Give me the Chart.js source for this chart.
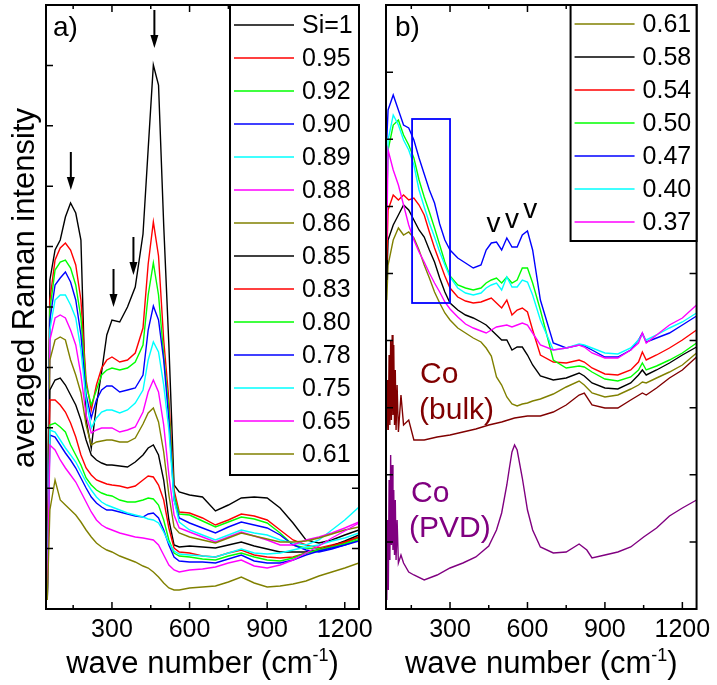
<!DOCTYPE html>
<html>
<head>
<meta charset="utf-8">
<script src="https://cdn.jsdelivr.net/npm/chart.js@4.4.1/dist/chart.umd.min.js"></script>
<style>
  body { margin: 0; background: #fff; }
  #wrap { position: relative; width: 717px; height: 685px; overflow: hidden; }
  #left { position: absolute; left: 0; top: 0; }
  #right { position: absolute; left: 370px; top: 0; }
</style>
</head>
<body>
<div id="wrap">
  <canvas id="left" width="380" height="685"></canvas>
  <canvas id="right" width="347" height="685"></canvas>
</div>
<script>
const FONT = "'Liberation Sans', Arial, sans-serif";

// ---- panel a) : wave numbers and averaged intensities (arb. units) ----
const waveA = [50, 60, 80, 100, 120, 140, 160, 180, 200, 220, 240, 260, 280, 300, 330, 360, 390, 420, 440, 460, 480, 500, 520, 540, 560, 600, 650, 700, 750, 800, 850, 900, 950, 1000, 1050, 1100, 1150, 1200, 1255];
const a100 = [49, 329, 359, 369, 392, 406, 396, 369, 189, 161, 204, 237, 274, 289, 287, 302, 322, 375, 460, 544, 524, 384, 264, 124, 117, 114, 112, 98, 104, 111, 112, 111, 101, 86, 69, 66, 69, 74, 79];
const a095 = [39, 309, 349, 361, 366, 359, 344, 309, 229, 199, 224, 241, 249, 252, 247, 249, 256, 281, 345, 387, 353, 269, 209, 119, 97, 96, 91, 84, 89, 95, 93, 89, 79, 69, 64, 61, 64, 67, 72];
const a092 = [34, 299, 339, 347, 349, 341, 324, 291, 224, 204, 219, 234, 239, 241, 239, 241, 247, 264, 314, 346, 314, 254, 199, 114, 95, 94, 88, 82, 87, 92, 90, 86, 76, 64, 61, 60, 63, 66, 71];
const a090 = [29, 289, 324, 331, 337, 327, 309, 274, 214, 191, 209, 219, 223, 223, 217, 219, 221, 234, 279, 303, 289, 249, 189, 109, 91, 86, 81, 76, 82, 87, 84, 81, 74, 64, 59, 57, 60, 64, 69];
const a089 = [24, 279, 309, 314, 314, 304, 291, 259, 209, 181, 191, 197, 199, 199, 196, 199, 206, 219, 249, 267, 257, 224, 179, 109, 87, 79, 74, 69, 74, 79, 76, 74, 69, 66, 64, 69, 79, 89, 102];
const a088 = [19, 269, 291, 294, 291, 279, 264, 234, 194, 176, 179, 181, 181, 181, 177, 179, 182, 197, 217, 229, 217, 184, 134, 94, 81, 77, 72, 67, 72, 77, 73, 69, 64, 64, 69, 72, 76, 81, 87];
const a086 = [17, 249, 269, 272, 269, 249, 234, 216, 184, 164, 167, 168, 169, 169, 167, 167, 171, 185, 196, 201, 187, 157, 114, 82, 76, 72, 69, 66, 71, 76, 73, 70, 67, 67, 68, 71, 75, 79, 82];
const a085 = [14, 219, 229, 231, 224, 214, 204, 189, 169, 154, 149, 146, 144, 144, 143, 142, 147, 154, 161, 164, 154, 129, 89, 64, 62, 63, 62, 61, 64, 67, 63, 60, 57, 57, 57, 59, 63, 68, 74];
const a083 = [12, 209, 209, 204, 197, 186, 172, 154, 141, 134, 129, 127, 125, 124, 123, 121, 123, 129, 133, 132, 124, 109, 81, 61, 57, 56, 53, 52, 56, 59, 54, 52, 51, 52, 56, 59, 63, 67, 72];
const a080 = [11, 184, 186, 182, 177, 164, 154, 144, 131, 124, 119, 116, 114, 113, 109, 107, 107, 109, 111, 110, 104, 89, 69, 56, 53, 52, 50, 49, 53, 56, 52, 49, 48, 51, 56, 59, 62, 65, 69];
const a078 = [11, 174, 172, 164, 156, 149, 141, 131, 121, 112, 106, 102, 99, 99, 97, 95, 93, 92, 95, 96, 91, 79, 64, 52, 48, 47, 47, 46, 50, 54, 48, 46, 46, 49, 54, 58, 61, 64, 68];
const a075 = [11, 179, 177, 169, 161, 154, 147, 137, 127, 119, 112, 107, 104, 102, 99, 96, 94, 92, 90, 89, 86, 77, 66, 58, 55, 54, 53, 52, 56, 60, 56, 55, 56, 59, 62, 64, 68, 71, 76];
const a065 = [10, 164, 159, 149, 141, 134, 127, 117, 107, 97, 89, 84, 81, 79, 76, 74, 72, 71, 70, 69, 64, 54, 44, 39, 37, 39, 40, 42, 46, 49, 43, 41, 44, 49, 56, 63, 71, 78, 86];
const a061 = [9, 99, 129, 109, 104, 99, 94, 87, 79, 72, 66, 62, 59, 57, 53, 50, 47, 43, 41, 37, 32, 26, 21, 19, 19, 21, 22, 23, 27, 32, 26, 22, 23, 25, 28, 33, 37, 41, 46];

const labelsA = ['Si=1', '0.95', '0.92', '0.90', '0.89', '0.88', '0.86', '0.85', '0.83', '0.80', '0.78', '0.75', '0.65', '0.61'];
const colorsA = ['#000000', '#ff0000', '#00ff00', '#0000ff', '#00ffff', '#ff00ff', '#808000', '#000000', '#ff0000', '#00ff00', '#0000ff', '#00ffff', '#ff00ff', '#808000'];
const seriesA = [a100, a095, a092, a090, a089, a088, a086, a085, a083, a080, a078, a075, a065, a061];

// arrows in panel a (tip position)
const arrowWave = [141, 306, 383, 464];
const arrowLevel = [419, 302, 334, 561];

// ---- panel b) ----
const waveB = [55, 60, 80, 100, 120, 140, 160, 180, 200, 220, 240, 260, 280, 300, 330, 360, 390, 420, 440, 460, 480, 500, 520, 540, 560, 580, 600, 620, 650, 700, 750, 800, 820, 850, 900, 950, 1000, 1030, 1045, 1060, 1100, 1150, 1200, 1255];
const b061 = [309, 344, 369, 381, 374, 377, 371, 359, 344, 331, 317, 306, 296, 289, 281, 276, 271, 267, 261, 253, 232, 224, 212, 205, 203, 205, 206, 208, 210, 215, 222, 228, 224, 216, 212, 214, 220, 224, 227, 226, 231, 237, 244, 256];
const b058 = [329, 369, 384, 394, 404, 399, 389, 379, 372, 359, 347, 331, 317, 306, 299, 294, 291, 287, 284, 279, 274, 269, 269, 259, 262, 262, 254, 244, 233, 229, 231, 236, 233, 226, 221, 220, 226, 234, 239, 234, 239, 246, 254, 262];
const b054 = [349, 399, 414, 409, 414, 409, 411, 404, 394, 377, 361, 347, 333, 321, 312, 308, 306, 307, 309, 311, 306, 301, 309, 294, 299, 301, 297, 279, 254, 247, 246, 249, 247, 241, 235, 234, 239, 247, 257, 249, 254, 261, 269, 279];
const b050 = [409, 459, 484, 489, 474, 464, 451, 429, 412, 397, 381, 364, 347, 333, 324, 321, 319, 321, 326, 329, 331, 326, 332, 326, 329, 341, 341, 326, 299, 249, 241, 243, 242, 237, 230, 228, 232, 239, 246, 239, 243, 249, 256, 266];
const b047 = [469, 499, 514, 499, 484, 481, 469, 451, 435, 419, 406, 385, 369, 359, 351, 346, 341, 344, 359, 366, 367, 359, 371, 362, 362, 374, 378, 359, 309, 266, 261, 264, 263, 259, 252, 252, 259, 269, 276, 267, 271, 276, 284, 293];
const b040 = [399, 469, 494, 484, 469, 459, 444, 419, 402, 386, 372, 357, 344, 332, 321, 316, 314, 316, 321, 324, 326, 319, 332, 322, 322, 329, 327, 314, 289, 259, 261, 265, 264, 261, 256, 255, 261, 269, 274, 269, 274, 281, 287, 296];
const b037 = [369, 459, 439, 424, 404, 384, 369, 357, 347, 336, 326, 317, 307, 300, 292, 285, 281, 278, 276, 279, 282, 283, 284, 282, 284, 286, 284, 276, 264, 259, 261, 264, 262, 256, 251, 251, 259, 266, 276, 266, 274, 284, 291, 304];

const labelsB = ['0.61', '0.58', '0.54', '0.50', '0.47', '0.40', '0.37'];
const colorsB = ['#808000', '#000000', '#ff0000', '#00ff00', '#0000ff', '#00ffff', '#ff00ff'];
const seriesB = [b061, b058, b054, b050, b047, b040, b037];

// reference spectra of cobalt
const waveBulk = [55, 58, 61, 64, 67, 70, 73, 76, 79, 82, 85, 88, 91, 95, 100, 110, 120, 140, 160, 200, 250, 300, 350, 400, 450, 500, 550, 600, 650, 700, 750, 800, 820, 850, 900, 950, 1000, 1045, 1060, 1100, 1150, 1200, 1255];
const coBulk = [179, 229, 179, 254, 184, 269, 189, 274, 194, 264, 184, 239, 179, 224, 177, 214, 184, 189, 169, 169, 172, 174, 177, 180, 184, 187, 191, 193, 193, 197, 204, 214, 216, 204, 201, 201, 209, 216, 214, 221, 231, 239, 252];
const wavePvd = [55, 58, 61, 64, 67, 70, 73, 76, 79, 82, 85, 88, 91, 95, 100, 110, 120, 140, 160, 200, 250, 300, 350, 400, 450, 480, 500, 520, 530, 540, 550, 560, 580, 600, 620, 650, 700, 750, 800, 830, 850, 900, 950, 1000, 1050, 1100, 1150, 1200, 1255];
const coPvd = [9, 89, 19, 129, 49, 154, 64, 144, 59, 119, 54, 109, 49, 89, 46, 54, 46, 37, 34, 29, 34, 41, 46, 52, 63, 79, 96, 124, 141, 157, 164, 159, 131, 99, 79, 62, 56, 57, 65, 59, 51, 54, 57, 62, 72, 81, 93, 101, 109];

// marks in panel b
const vWave = [468, 540, 611];
const vLevel = [377, 381, 391];
const boxWave = [153, 300];
const boxLevel = [306, 490];
const coText = ['Co', '(bulk)', 'Co', '(PVD)'];
const coTextWave = [184, 180, 149, 141];
const coTextLevel = [226, 190, 107, 72];
const coTextColor = ['#800000', '#800000', '#800080', '#800080'];

const xTicks = [300, 600, 900, 1200];

function lineSet(label, color, waves, values, order) {
  return {
    label: label,
    data: waves.map((w, k) => ({ x: w, y: values[k] })),
    borderColor: color,
    borderWidth: 1.4,
    pointRadius: 0,
    fill: false,
    tension: 0,
    order: order
  };
}

// frame with inward ticks on all four sides
const frameTicks = {
  id: 'frameTicks',
  afterDatasetsDraw(chart, args, opts) {
    const { ctx, chartArea: a, scales: { x, y } } = chart;
    ctx.save();
    ctx.strokeStyle = '#000';
    ctx.lineWidth = 1.5;
    ctx.beginPath();
    for (let w = 150; w < x.max; w += 150) {
      if (w <= x.min) continue;
      const px = x.getPixelForValue(w);
      const len = w % 300 === 0 ? 7 : 4;
      ctx.moveTo(px, a.bottom); ctx.lineTo(px, a.bottom - len);
      ctx.moveTo(px, a.top); ctx.lineTo(px, a.top + len);
    }
    for (let v = opts.yStep; v < y.max - 1; v += opts.yStep) {
      const py = y.getPixelForValue(v);
      ctx.moveTo(a.left, py); ctx.lineTo(a.left + 7, py);
      ctx.moveTo(a.right, py); ctx.lineTo(a.right - 7, py);
    }
    ctx.stroke();
    ctx.lineWidth = 2;
    ctx.strokeRect(a.left, a.top, a.right - a.left, a.bottom - a.top);

    // x title with superscript
    const cx = (a.left + a.right) / 2, base = a.bottom + 64;
    ctx.fillStyle = '#000';
    ctx.textBaseline = 'alphabetic';
    ctx.textAlign = 'left';
    ctx.font = '31px ' + FONT;
    const main = 'wave number (cm';
    const w1 = ctx.measureText(main).width, w3 = ctx.measureText(')').width;
    ctx.font = '18px ' + FONT;
    const w2 = ctx.measureText('-1').width;
    let sx = cx - (w1 + w2 + w3) / 2;
    ctx.font = '31px ' + FONT;
    ctx.fillText(main, sx, base);
    ctx.font = '18px ' + FONT;
    ctx.fillText('-1', sx + w1, base - 12);
    ctx.font = '31px ' + FONT;
    ctx.fillText(')', sx + w1 + w2, base);

    // panel letter
    ctx.font = '28px ' + FONT;
    ctx.fillText(opts.letter, a.left + opts.letterDx, a.top + 31);
    ctx.restore();
  }
};

// boxed legend in the top right corner
const boxLegend = {
  id: 'boxLegend',
  afterDraw(chart, args, opts) {
    const { ctx, chartArea: a } = chart;
    const left = a.right - opts.width;
    ctx.save();
    ctx.fillStyle = '#fff';
    ctx.fillRect(left, a.top, opts.width, opts.height);
    ctx.strokeStyle = '#000';
    ctx.lineWidth = 2;
    ctx.strokeRect(left, a.top, opts.width, opts.height);
    ctx.font = '25px ' + FONT;
    ctx.textBaseline = 'middle';
    ctx.textAlign = 'left';
    opts.labels.forEach((lab, i) => {
      const yy = a.top + opts.first + 33 * i;
      ctx.strokeStyle = opts.colors[i];
      ctx.lineWidth = 1.3;
      ctx.beginPath();
      ctx.moveTo(left + 4, yy); ctx.lineTo(left + 64, yy);
      ctx.stroke();
      ctx.fillStyle = '#000';
      ctx.fillText(lab, left + 72, yy + 1);
    });
    ctx.restore();
  }
};

const arrowsA = {
  id: 'arrowsA',
  afterDraw(chart) {
    const { ctx, chartArea: a, scales: { x, y } } = chart;
    ctx.save();
    ctx.fillStyle = '#000';
    ctx.strokeStyle = '#000';
    arrowWave.forEach((w, i) => {
      const px = x.getPixelForValue(w), py = y.getPixelForValue(arrowLevel[i]);
      ctx.lineWidth = 2;
      ctx.beginPath();
      ctx.moveTo(px, py - 38); ctx.lineTo(px, py - 10);
      ctx.stroke();
      ctx.beginPath();
      ctx.moveTo(px, py); ctx.lineTo(px - 4, py - 13); ctx.lineTo(px + 4, py - 13);
      ctx.closePath();
      ctx.fill();
    });
    // y title
    ctx.translate(a.left - 21, a.top + 283);
    ctx.rotate(-Math.PI / 2);
    ctx.font = '31px ' + FONT;
    ctx.textAlign = 'center';
    ctx.textBaseline = 'middle';
    ctx.fillText('averaged Raman intensity', 0, 0);
    ctx.restore();
  }
};

const marksB = {
  id: 'marksB',
  afterDraw(chart) {
    const { ctx, scales: { x, y } } = chart;
    ctx.save();
    ctx.strokeStyle = '#0000ff';
    ctx.lineWidth = 1.8;
    const x0 = x.getPixelForValue(boxWave[0]), x1 = x.getPixelForValue(boxWave[1]);
    const y0 = y.getPixelForValue(boxLevel[1]), y1 = y.getPixelForValue(boxLevel[0]);
    ctx.strokeRect(x0, y0, x1 - x0, y1 - y0);
    ctx.fillStyle = '#000';
    ctx.font = '28px ' + FONT;
    ctx.textAlign = 'center';
    ctx.textBaseline = 'alphabetic';
    vWave.forEach((w, i) => ctx.fillText('v', x.getPixelForValue(w), y.getPixelForValue(vLevel[i])));
    ctx.font = '30px ' + FONT;
    ctx.textAlign = 'left';
    coText.forEach((t, i) => {
      ctx.fillStyle = coTextColor[i];
      ctx.fillText(t, x.getPixelForValue(coTextWave[i]), y.getPixelForValue(coTextLevel[i]));
    });
    ctx.restore();
  }
};

function axes(xmin, yWidth) {
  return {
    x: {
      type: 'linear', min: xmin, max: 1255,
      afterBuildTicks: s => { s.ticks = xTicks.map(v => ({ value: v })); },
      afterFit: s => { s.height = 76; },
      grid: { display: false, drawTicks: false },
      border: { display: false },
      ticks: { color: '#000', font: { family: FONT, size: 25 }, padding: 6, maxRotation: 0, autoSkip: false, callback: v => String(v) }
    },
    y: {
      min: 0, max: 604,
      afterFit: s => { s.width = yWidth; },
      grid: { display: false, drawTicks: false },
      border: { display: false },
      ticks: { display: false }
    }
  };
}

const n = seriesA.length;
new Chart(document.getElementById('left'), {
  type: 'line',
  data: { datasets: seriesA.map((s, i) => lineSet(labelsA[i], colorsA[i], waveA, s, n - i)) },
  options: {
    responsive: false, animation: false, devicePixelRatio: 1, events: [],
    layout: { padding: { top: 5, right: 21, left: 0, bottom: 0 } },
    scales: axes(45, 46),
    plugins: {
      legend: { display: false }, tooltip: { enabled: false },
      frameTicks: { yStep: 60.4, letter: 'a)', letterDx: 7 },
      boxLegend: { labels: labelsA, colors: colorsA, width: 129, height: 470, first: 20 }
    }
  },
  plugins: [frameTicks, boxLegend, arrowsA]
});

const setsB = seriesB.map((s, i) => lineSet(labelsB[i], colorsB[i], waveB, s, seriesB.length - i + 2));
setsB.push(lineSet('Co (bulk)', '#800000', waveBulk, coBulk, 2));
setsB.push(lineSet('Co (PVD)', '#800080', wavePvd, coPvd, 1));

new Chart(document.getElementById('right'), {
  type: 'line',
  data: { datasets: setsB },
  options: {
    responsive: false, animation: false, devicePixelRatio: 1, events: [],
    layout: { padding: { top: 5, right: 18, left: 0, bottom: 0 } },
    scales: axes(52, 16),
    plugins: {
      legend: { display: false }, tooltip: { enabled: false },
      frameTicks: { yStep: 67.1, letter: 'b)', letterDx: 9 },
      boxLegend: { labels: labelsB, colors: colorsB, width: 126, height: 236, first: 19 }
    }
  },
  plugins: [frameTicks, boxLegend, marksB]
});
</script>
</body>
</html>
